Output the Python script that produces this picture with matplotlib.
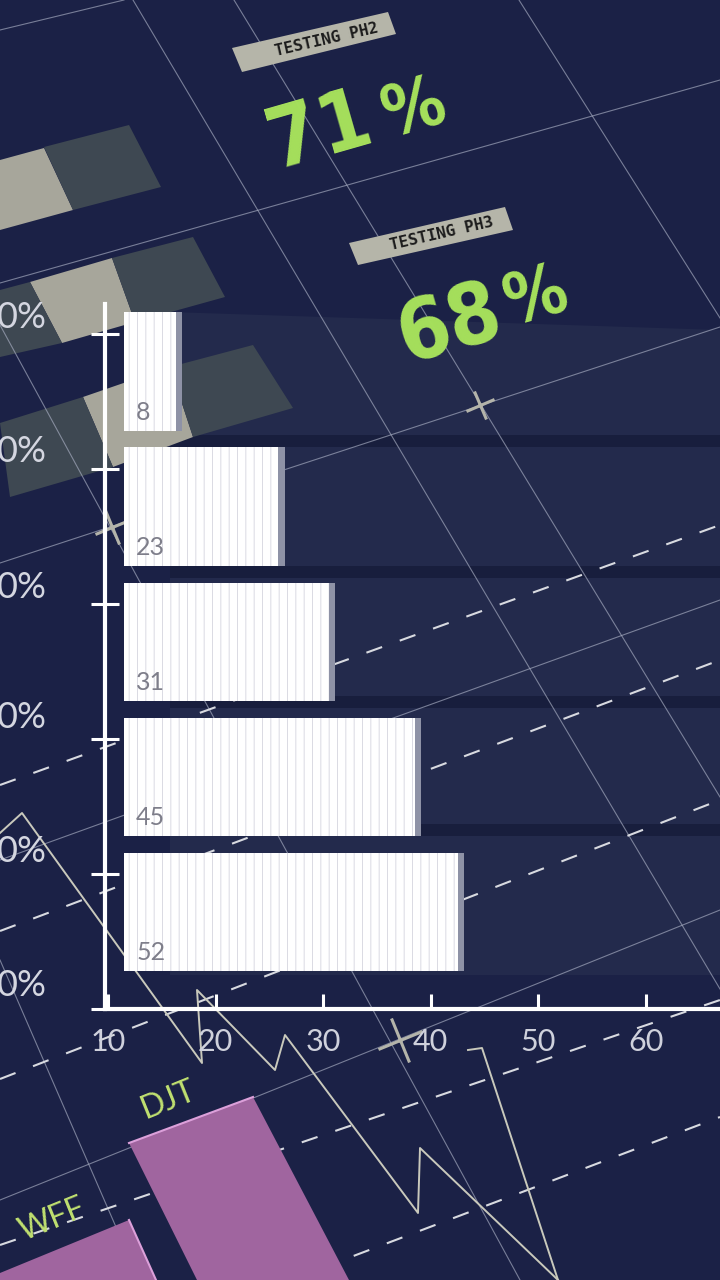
import numpy as np
import matplotlib
matplotlib.use('Agg')
import matplotlib.pyplot as plt
from matplotlib.patches import Polygon
from matplotlib.markers import MarkerStyle
from matplotlib.transforms import Affine2D

# --- main bar chart ---
bar_values = [8, 23, 31, 45, 52]            # numbers printed in the bars
bar_ends = [16.3, 25.8, 30.5, 38.5, 42.5]   # right edge read on the x axis
bar_start = 11.5
x_ticks = [10, 20, 30, 40, 50, 60]

# --- headline figures ---
phase_labels = ['TESTING PH2', 'TESTING PH3']
phase_values = ['71', '68']
phase_pos = [(320, 132), (450, 326)]          # centre of the big number (px)
percent_pos = [(414, 110), (536, 298)]
tag_pos = [(327, 40), (442, 234)]
tag_boxes = [[(232, 48), (388, 12), (396, 34), (242, 72)],
             [(349, 243), (505, 207), (513, 230), (358, 265)]]

# --- left side "0%" column ---
pct_rows = [318, 452, 588, 718, 852, 985]

# --- pink bars at the bottom ---
pink_labels = ['WFF', 'DJT']
pink_label_pos = [(52, 1220), (168, 1100)]
pink_shapes = [[(0, 1273), (129, 1220), (156, 1280), (0, 1280)],
               [(129, 1143), (253, 1097), (349, 1280), (197, 1280)]]

# --- background decoration (pixel space) ---
grid_lines = [((0, 30), (124, 0)), ((0, 283), (720, 80)), ((0, 563), (720, 327)),
              ((0, 860), (720, 600)), ((0, 1200), (720, 910)),
              ((133, 0), (720, 989)), ((234, 0), (720, 797)), ((519, 0), (720, 318)),
              ((0, 325), (520, 1280)), ((0, 960), (139, 1280))]
dash_lines = [((0, 785), (720, 525)), ((0, 931), (720, 660)), ((0, 1079), (720, 800)),
              ((0, 1245), (720, 1000)), ((0, 1390), (720, 1117))]
light_tiles = [[(0, 160), (44, 148), (73, 210), (0, 230)],
               [(30, 282), (112, 258), (135, 322), (62, 343)],
               [(83, 397), (170, 367), (193, 437), (113, 467)]]
dark_tiles = [[(44, 147), (129, 125), (161, 187), (73, 210)],
              [(112, 258), (193, 237), (225, 297), (135, 322)],
              [(0, 290), (30, 282), (62, 343), (0, 357)],
              [(170, 367), (253, 345), (293, 408), (193, 437)],
              [(0, 423), (83, 397), (113, 467), (10, 497)]]
panel = [(170, 312), (720, 330), (720, 975), (170, 975)]
panel_gaps = [441, 572, 702, 830]
zigzag_x = [0, 22, 202, 197, 275, 285, 418, 420, 558]
zigzag_y = [833, 813, 1063, 990, 1070, 1035, 1213, 1148, 1280]
spike_x = [468, 482, 558]
spike_y = [1050, 1048, 1280]
crosses = [(480, 405, 22), (400, 1040, 34), (112, 527, 26)]

BG = '#1b2146'
GREEN = '#a6e05c'
THIN = 'Lato'

fig = plt.figure(figsize=(7.2, 12.8), dpi=100, facecolor=BG)

bg = fig.add_axes([0, 0, 1, 1])
bg.set_xlim(0, 720)
bg.set_ylim(1280, 0)
bg.axis('off')

bg.add_patch(Polygon(panel, closed=True, color='#232a4c', lw=0, zorder=0))
for gy in panel_gaps:
    bg.fill_between([170, 720], gy - 6, gy + 6, color='#181e3d', lw=0, zorder=0.5)

for pts in light_tiles:
    bg.add_patch(Polygon(pts, closed=True, color='#a7a69b', lw=0, zorder=1))
for pts in dark_tiles:
    bg.add_patch(Polygon(pts, closed=True, color='#3e4852', lw=0, zorder=1))

for (x0, y0), (x1, y1) in grid_lines:
    bg.plot([x0, x1], [y0, y1], color='#aab0c4', lw=0.8, alpha=0.65, zorder=2)
for (x0, y0), (x1, y1) in dash_lines:
    bg.plot([x0, x1], [y0, y1], color='#d8dae0', lw=1.5, dashes=[8, 9], zorder=2)

bg.plot(zigzag_x, zigzag_y, color='#c9c9bc', lw=1.4, zorder=3)
bg.plot(spike_x, spike_y, color='#c9c9bc', lw=1.4, zorder=3)

for cx, cy, size in crosses:
    m = MarkerStyle('+', transform=Affine2D().rotate_deg(22))
    bg.plot(cx, cy, marker=m, ms=size, mew=2.2, color='#b4b4aa', zorder=3)

for row in pct_rows:
    bg.text(-3, row, '0%', color='#d4d6e0', fontsize=26, family=THIN,
            ha='left', va='center', zorder=4)

for pts, label, (tx, ty) in zip(tag_boxes, phase_labels, tag_pos):
    bg.add_patch(Polygon(pts, closed=True, color='#b5b5a9', lw=0, zorder=4))
    bg.text(tx, ty, label, color='#1c1c1c', fontsize=11.5, family='DejaVu Sans Mono',
            weight='bold', fontstretch='condensed', rotation=13, ha='center',
            va='center', rotation_mode='anchor', zorder=5)

for val, (nx, ny), (px, py) in zip(phase_values, phase_pos, percent_pos):
    bg.text(nx, ny, val, color=GREEN, fontsize=60, weight='bold',
            family='DejaVu Sans', fontstretch='condensed',
            rotation=16, ha='center', va='center', rotation_mode='anchor', zorder=5)
    bg.text(px, py, '%', color=GREEN, fontsize=50, weight='bold',
            family='DejaVu Sans', fontstretch='condensed',
            rotation=16, ha='center', va='center', rotation_mode='anchor', zorder=5)

for pts in pink_shapes:
    bg.add_patch(Polygon(pts, closed=True, color='#a0659f', lw=0, zorder=4))
bg.plot([pink_shapes[1][0][0], pink_shapes[1][1][0]],
        [pink_shapes[1][0][1], pink_shapes[1][1][1]], color='#dca0da', lw=1.5, zorder=4)
bg.plot([pink_shapes[0][1][0], pink_shapes[0][2][0]],
        [pink_shapes[0][1][1], pink_shapes[0][2][1]], color='#dca0da', lw=1.5, zorder=4)
for label, (lx, ly) in zip(pink_labels, pink_label_pos):
    bg.text(lx, ly, label, color='#c0e070', fontsize=23, family=THIN,
            rotation=22, ha='center', va='center', rotation_mode='anchor', zorder=5)

# --- main chart ---
plt.rcParams['hatch.linewidth'] = 0.7
ax = fig.add_axes([105 / 720, 271 / 1280, 615 / 720, 705 / 1280], facecolor='none')
ax.set_zorder(2)
y = np.arange(len(bar_values))
widths = np.array(bar_ends) - bar_start
ax.barh(y, widths + 0.6, left=bar_start, height=0.875, color='#8e92a6', lw=0, zorder=2)
ax.barh(y, widths, left=bar_start, height=0.875, color='white',
        edgecolor='#dadae3', lw=0, hatch='||', zorder=3)
for yi, v in zip(y, bar_values):
    ax.text(bar_start + 1.1, yi + 0.30, str(v), color='#7e7e8a', fontsize=18,
            family=THIN, ha='left', va='center', zorder=4)

ax.set_xlim(9.7, 66.9)
ax.set_ylim(4.72, -0.5)
for side in ['top', 'right']:
    ax.spines[side].set_visible(False)
for side in ['left', 'bottom']:
    ax.spines[side].set_color('white')
    ax.spines[side].set_linewidth(3)
ax.set_xticks(x_ticks)
ax.set_yticks([i - 0.28 for i in range(len(bar_values) + 1)])
ax.set_yticklabels([])
ax.tick_params(axis='x', direction='in', length=11, width=2.2, color='white',
               labelcolor='#cfd1dc', labelsize=22, pad=14)
ax.tick_params(axis='y', direction='inout', length=20, width=2.2, color='white')
for lbl in ax.get_xticklabels():
    lbl.set_fontfamily(THIN)

fig.savefig('out.png', dpi=100, facecolor=BG)
